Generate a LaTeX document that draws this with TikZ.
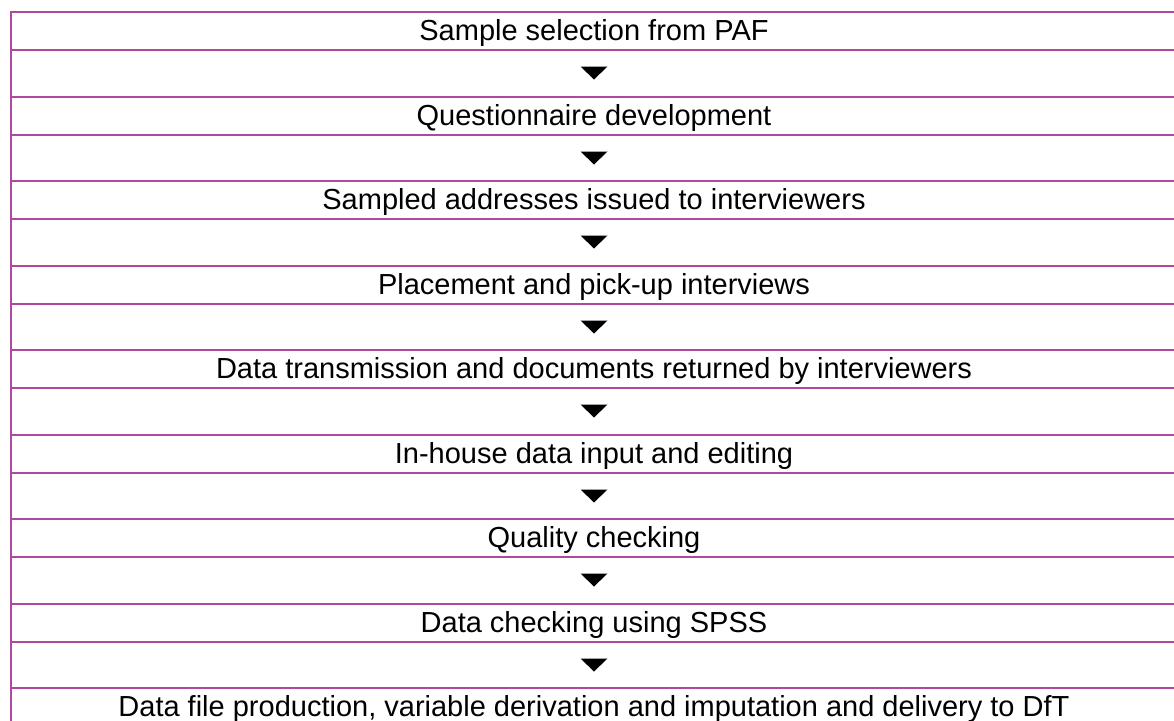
\documentclass[tikz,border=0pt]{standalone}
\usepackage{fontspec}
\usetikzlibrary{calc}
\setmainfont{Liberation Sans}
\definecolor{rule}{RGB}{176,72,158}
\begin{document}
\begin{tikzpicture}[x=1pt,y=-1pt,
  gridline/.style={draw=rule,line width=2pt},
  steptext/.style={anchor=base,inner sep=0pt,font=\fontsize{29}{34}\selectfont},
  downtip/.style={fill=black,draw=none}]
\useasboundingbox (0,0) rectangle (1174,720);
\def\cx{594}
% horizontal rules: each step row is 38 high, each arrow row about 46.5 high
\foreach \i in {0,...,8}{
  \pgfmathsetmacro{\ya}{round(12+\i*84.5)}
  \pgfmathsetmacro{\yb}{\ya+38}
  \draw[gridline] (11,\ya) -- (1180,\ya);
  \ifnum\i<8 \draw[gridline] (11,\yb) -- (1180,\yb); \fi
}
\draw[gridline] (11,11) -- (11,725);
% step labels
\foreach \i/\t in {1/Sample selection from PAF,
  2/Questionnaire development,
  3/Sampled addresses issued to interviewers,
  4/Placement and pick-up interviews,
  5/Data transmission and documents returned by interviewers,
  6/In-house data input and editing,
  7/Quality checking,
  8/Data checking using SPSS,
  9/{Data file production, variable derivation and imputation and delivery to DfT}}{
  \pgfmathsetmacro{\yt}{round(12+(\i-1)*84.5)+28}
  \node[steptext] (t\i) at (\cx,\yt) {\t};
}
% arrow marks between steps
\foreach \i in {1,...,8}{
  \pgfmathsetmacro{\yt}{round(12+(\i-1)*84.5)+38+16.5}
  \coordinate (a\i) at (\cx,\yt);
  \fill[downtip] ($(a\i)+(-13.5,0)$) -- ($(a\i)+(13.5,0)$) -- ($(a\i)+(0,13)$) -- cycle;
}
\end{tikzpicture}
\end{document}
